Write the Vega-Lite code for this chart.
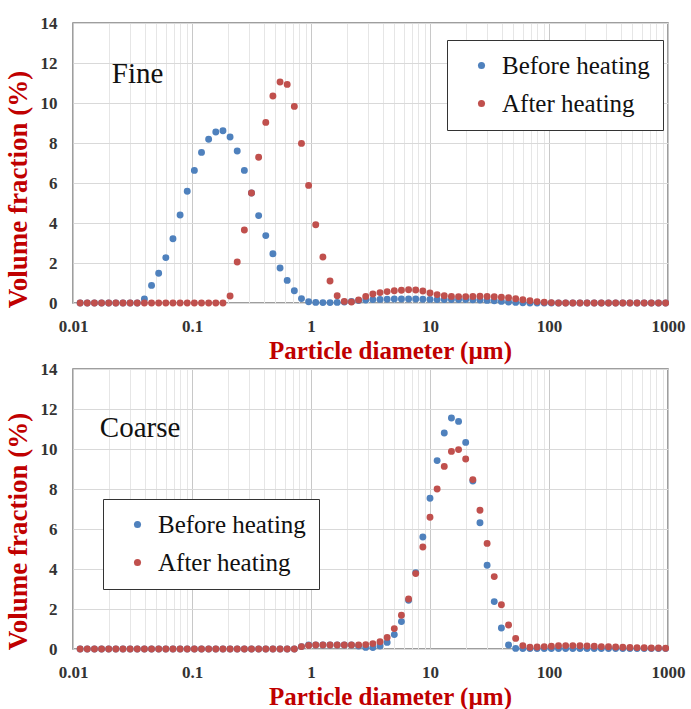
{
"$schema": "https://vega.github.io/schema/vega-lite/v6.json",
"background": "white",
"padding": {"left": 3, "top": 13, "right": 12, "bottom": 5},
"spacing": -5,
"config": {
  "view": {"stroke": "#7f7f7f", "strokeWidth": 1.5},
  "axis": {"labelFont": "Liberation Serif", "labelFontWeight": "bold", "labelFontSize": 17, "labelColor": "#333333", "titleFont": "Liberation Serif", "titleFontWeight": "bold", "titleFontSize": 25, "titleColor": "#C00000", "ticks": false, "domain": false, "gridColor": "#d9d9d9", "gridWidth": 1, "labelOverlap": false},
  "axisY": {"titleFontSize": 27},
  "legend": {"labelFont": "Liberation Serif", "labelFontSize": 25, "labelColor": "#111111", "strokeColor": "#333333", "fillColor": "white", "padding": 13, "symbolType": "circle", "symbolSize": 50, "symbolOffset": 9, "labelOffset": 8, "rowPadding": 12, "symbolStrokeWidth": 0}
},
"resolve": {"legend": {"color": "independent"}},
"datasets": {
"fine": [
{"d":0.01148,"s":"Before heating","v":0},{"d":0.01318,"s":"Before heating","v":0},{"d":0.01514,"s":"Before heating","v":0},{"d":0.01738,"s":"Before heating","v":0},{"d":0.01995,"s":"Before heating","v":0},{"d":0.02291,"s":"Before heating","v":0},{"d":0.0263,"s":"Before heating","v":0},{"d":0.0302,"s":"Before heating","v":0},{"d":0.03467,"s":"Before heating","v":0},{"d":0.03981,"s":"Before heating","v":0.2},
{"d":0.04571,"s":"Before heating","v":0.88},{"d":0.05248,"s":"Before heating","v":1.49},{"d":0.06026,"s":"Before heating","v":2.27},{"d":0.06918,"s":"Before heating","v":3.21},{"d":0.07943,"s":"Before heating","v":4.4},{"d":0.0912,"s":"Before heating","v":5.59},{"d":0.1047,"s":"Before heating","v":6.63},{"d":0.1202,"s":"Before heating","v":7.53},{"d":0.138,"s":"Before heating","v":8.19},{"d":0.1585,"s":"Before heating","v":8.55},
{"d":0.182,"s":"Before heating","v":8.61},{"d":0.2089,"s":"Before heating","v":8.3},{"d":0.2399,"s":"Before heating","v":7.6},{"d":0.2754,"s":"Before heating","v":6.63},{"d":0.3162,"s":"Before heating","v":5.5},{"d":0.3631,"s":"Before heating","v":4.37},{"d":0.4169,"s":"Before heating","v":3.37},{"d":0.4786,"s":"Before heating","v":2.46},{"d":0.5495,"s":"Before heating","v":1.75},{"d":0.631,"s":"Before heating","v":1.13},
{"d":0.7244,"s":"Before heating","v":0.61},{"d":0.8318,"s":"Before heating","v":0.22},{"d":0.955,"s":"Before heating","v":0.06},{"d":1.096,"s":"Before heating","v":0.03},{"d":1.259,"s":"Before heating","v":0.02},{"d":1.445,"s":"Before heating","v":0.02},{"d":1.66,"s":"Before heating","v":0.03},{"d":1.905,"s":"Before heating","v":0.05},{"d":2.188,"s":"Before heating","v":0.08},{"d":2.512,"s":"Before heating","v":0.12},
{"d":2.884,"s":"Before heating","v":0.15},{"d":3.311,"s":"Before heating","v":0.17},{"d":3.802,"s":"Before heating","v":0.18},{"d":4.365,"s":"Before heating","v":0.19},{"d":5.012,"s":"Before heating","v":0.2},{"d":5.754,"s":"Before heating","v":0.2},{"d":6.607,"s":"Before heating","v":0.2},{"d":7.586,"s":"Before heating","v":0.2},{"d":8.71,"s":"Before heating","v":0.19},{"d":10,"s":"Before heating","v":0.18},
{"d":11.48,"s":"Before heating","v":0.17},{"d":13.18,"s":"Before heating","v":0.17},{"d":15.14,"s":"Before heating","v":0.17},{"d":17.38,"s":"Before heating","v":0.17},{"d":19.95,"s":"Before heating","v":0.17},{"d":22.91,"s":"Before heating","v":0.16},{"d":26.3,"s":"Before heating","v":0.15},{"d":30.2,"s":"Before heating","v":0.13},{"d":34.67,"s":"Before heating","v":0.11},{"d":39.81,"s":"Before heating","v":0.08},
{"d":45.71,"s":"Before heating","v":0.05},{"d":52.48,"s":"Before heating","v":0.03},{"d":60.26,"s":"Before heating","v":0.01},{"d":69.18,"s":"Before heating","v":0},{"d":79.43,"s":"Before heating","v":0},{"d":91.2,"s":"Before heating","v":0},{"d":104.7,"s":"Before heating","v":0},{"d":120.2,"s":"Before heating","v":0},{"d":138,"s":"Before heating","v":0},{"d":158.5,"s":"Before heating","v":0},
{"d":182,"s":"Before heating","v":0},{"d":208.9,"s":"Before heating","v":0},{"d":239.9,"s":"Before heating","v":0},{"d":275.4,"s":"Before heating","v":0},{"d":316.2,"s":"Before heating","v":0},{"d":363.1,"s":"Before heating","v":0},{"d":416.9,"s":"Before heating","v":0},{"d":478.6,"s":"Before heating","v":0},{"d":549.5,"s":"Before heating","v":0},{"d":631,"s":"Before heating","v":0},
{"d":724.4,"s":"Before heating","v":0},{"d":831.8,"s":"Before heating","v":0},{"d":955,"s":"Before heating","v":0},
{"d":0.01148,"s":"After heating","v":0},{"d":0.01318,"s":"After heating","v":0},{"d":0.01514,"s":"After heating","v":0},{"d":0.01738,"s":"After heating","v":0},{"d":0.01995,"s":"After heating","v":0},{"d":0.02291,"s":"After heating","v":0},{"d":0.0263,"s":"After heating","v":0},{"d":0.0302,"s":"After heating","v":0},{"d":0.03467,"s":"After heating","v":0},{"d":0.03981,"s":"After heating","v":0},
{"d":0.04571,"s":"After heating","v":0},{"d":0.05248,"s":"After heating","v":0},{"d":0.06026,"s":"After heating","v":0},{"d":0.06918,"s":"After heating","v":0},{"d":0.07943,"s":"After heating","v":0},{"d":0.0912,"s":"After heating","v":0},{"d":0.1047,"s":"After heating","v":0},{"d":0.1202,"s":"After heating","v":0},{"d":0.138,"s":"After heating","v":0},{"d":0.1585,"s":"After heating","v":0},
{"d":0.182,"s":"After heating","v":0},{"d":0.2089,"s":"After heating","v":0.35},{"d":0.2399,"s":"After heating","v":2.05},{"d":0.2754,"s":"After heating","v":3.65},{"d":0.3162,"s":"After heating","v":5.5},{"d":0.3631,"s":"After heating","v":7.29},{"d":0.4169,"s":"After heating","v":9.03},{"d":0.4786,"s":"After heating","v":10.35},{"d":0.5495,"s":"After heating","v":11.05},{"d":0.631,"s":"After heating","v":10.93},
{"d":0.7244,"s":"After heating","v":9.83},{"d":0.8318,"s":"After heating","v":7.98},{"d":0.955,"s":"After heating","v":5.88},{"d":1.096,"s":"After heating","v":3.91},{"d":1.259,"s":"After heating","v":2.3},{"d":1.445,"s":"After heating","v":1.1},{"d":1.66,"s":"After heating","v":0.36},{"d":1.905,"s":"After heating","v":0.08},{"d":2.188,"s":"After heating","v":0.05},{"d":2.512,"s":"After heating","v":0.15},
{"d":2.884,"s":"After heating","v":0.33},{"d":3.311,"s":"After heating","v":0.45},{"d":3.802,"s":"After heating","v":0.52},{"d":4.365,"s":"After heating","v":0.57},{"d":5.012,"s":"After heating","v":0.61},{"d":5.754,"s":"After heating","v":0.64},{"d":6.607,"s":"After heating","v":0.66},{"d":7.586,"s":"After heating","v":0.65},{"d":8.71,"s":"After heating","v":0.6},{"d":10,"s":"After heating","v":0.5},
{"d":11.48,"s":"After heating","v":0.42},{"d":13.18,"s":"After heating","v":0.36},{"d":15.14,"s":"After heating","v":0.33},{"d":17.38,"s":"After heating","v":0.32},{"d":19.95,"s":"After heating","v":0.32},{"d":22.91,"s":"After heating","v":0.33},{"d":26.3,"s":"After heating","v":0.34},{"d":30.2,"s":"After heating","v":0.33},{"d":34.67,"s":"After heating","v":0.31},{"d":39.81,"s":"After heating","v":0.29},
{"d":45.71,"s":"After heating","v":0.26},{"d":52.48,"s":"After heating","v":0.21},{"d":60.26,"s":"After heating","v":0.16},{"d":69.18,"s":"After heating","v":0.11},{"d":79.43,"s":"After heating","v":0.07},{"d":91.2,"s":"After heating","v":0.04},{"d":104.7,"s":"After heating","v":0.02},{"d":120.2,"s":"After heating","v":0},{"d":138,"s":"After heating","v":0},{"d":158.5,"s":"After heating","v":0},
{"d":182,"s":"After heating","v":0},{"d":208.9,"s":"After heating","v":0},{"d":239.9,"s":"After heating","v":0},{"d":275.4,"s":"After heating","v":0},{"d":316.2,"s":"After heating","v":0},{"d":363.1,"s":"After heating","v":0},{"d":416.9,"s":"After heating","v":0},{"d":478.6,"s":"After heating","v":0},{"d":549.5,"s":"After heating","v":0},{"d":631,"s":"After heating","v":0},
{"d":724.4,"s":"After heating","v":0},{"d":831.8,"s":"After heating","v":0},{"d":955,"s":"After heating","v":0}
],
"coarse": [
{"d":0.01148,"s":"Before heating","v":0},{"d":0.01318,"s":"Before heating","v":0},{"d":0.01514,"s":"Before heating","v":0},{"d":0.01738,"s":"Before heating","v":0},{"d":0.01995,"s":"Before heating","v":0},{"d":0.02291,"s":"Before heating","v":0},{"d":0.0263,"s":"Before heating","v":0},{"d":0.0302,"s":"Before heating","v":0},{"d":0.03467,"s":"Before heating","v":0},{"d":0.03981,"s":"Before heating","v":0},
{"d":0.04571,"s":"Before heating","v":0},{"d":0.05248,"s":"Before heating","v":0},{"d":0.06026,"s":"Before heating","v":0},{"d":0.06918,"s":"Before heating","v":0},{"d":0.07943,"s":"Before heating","v":0},{"d":0.0912,"s":"Before heating","v":0},{"d":0.1047,"s":"Before heating","v":0},{"d":0.1202,"s":"Before heating","v":0},{"d":0.138,"s":"Before heating","v":0},{"d":0.1585,"s":"Before heating","v":0},
{"d":0.182,"s":"Before heating","v":0},{"d":0.2089,"s":"Before heating","v":0},{"d":0.2399,"s":"Before heating","v":0},{"d":0.2754,"s":"Before heating","v":0},{"d":0.3162,"s":"Before heating","v":0},{"d":0.3631,"s":"Before heating","v":0},{"d":0.4169,"s":"Before heating","v":0},{"d":0.4786,"s":"Before heating","v":0},{"d":0.5495,"s":"Before heating","v":0},{"d":0.631,"s":"Before heating","v":0},
{"d":0.7244,"s":"Before heating","v":0},{"d":0.8318,"s":"Before heating","v":0.12},{"d":0.955,"s":"Before heating","v":0.2},{"d":1.096,"s":"Before heating","v":0.2},{"d":1.259,"s":"Before heating","v":0.2},{"d":1.445,"s":"Before heating","v":0.2},{"d":1.66,"s":"Before heating","v":0.2},{"d":1.905,"s":"Before heating","v":0.2},{"d":2.188,"s":"Before heating","v":0.2},{"d":2.512,"s":"Before heating","v":0.15},
{"d":2.884,"s":"Before heating","v":0.08},{"d":3.311,"s":"Before heating","v":0.07},{"d":3.802,"s":"Before heating","v":0.15},{"d":4.365,"s":"Before heating","v":0.33},{"d":5.012,"s":"Before heating","v":0.72},{"d":5.754,"s":"Before heating","v":1.37},{"d":6.607,"s":"Before heating","v":2.44},{"d":7.586,"s":"Before heating","v":3.82},{"d":8.71,"s":"Before heating","v":5.6},{"d":10,"s":"Before heating","v":7.54},
{"d":11.48,"s":"Before heating","v":9.42},{"d":13.18,"s":"Before heating","v":10.8},{"d":15.14,"s":"Before heating","v":11.55},{"d":17.38,"s":"Before heating","v":11.38},{"d":19.95,"s":"Before heating","v":10.33},{"d":22.91,"s":"Before heating","v":8.4},{"d":26.3,"s":"Before heating","v":6.31},{"d":30.2,"s":"Before heating","v":4.19},{"d":34.67,"s":"Before heating","v":2.37},{"d":39.81,"s":"Before heating","v":1.05},
{"d":45.71,"s":"Before heating","v":0.2},{"d":52.48,"s":"Before heating","v":0.03},{"d":60.26,"s":"Before heating","v":0.02},{"d":69.18,"s":"Before heating","v":0.02},{"d":79.43,"s":"Before heating","v":0.02},{"d":91.2,"s":"Before heating","v":0.02},{"d":104.7,"s":"Before heating","v":0.02},{"d":120.2,"s":"Before heating","v":0.02},{"d":138,"s":"Before heating","v":0.02},{"d":158.5,"s":"Before heating","v":0.02},
{"d":182,"s":"Before heating","v":0.02},{"d":208.9,"s":"Before heating","v":0.02},{"d":239.9,"s":"Before heating","v":0.02},{"d":275.4,"s":"Before heating","v":0.02},{"d":316.2,"s":"Before heating","v":0.02},{"d":363.1,"s":"Before heating","v":0.02},{"d":416.9,"s":"Before heating","v":0.02},{"d":478.6,"s":"Before heating","v":0.02},{"d":549.5,"s":"Before heating","v":0.02},{"d":631,"s":"Before heating","v":0.02},
{"d":724.4,"s":"Before heating","v":0.02},{"d":831.8,"s":"Before heating","v":0.02},{"d":955,"s":"Before heating","v":0.02},
{"d":0.01148,"s":"After heating","v":0},{"d":0.01318,"s":"After heating","v":0},{"d":0.01514,"s":"After heating","v":0},{"d":0.01738,"s":"After heating","v":0},{"d":0.01995,"s":"After heating","v":0},{"d":0.02291,"s":"After heating","v":0},{"d":0.0263,"s":"After heating","v":0},{"d":0.0302,"s":"After heating","v":0},{"d":0.03467,"s":"After heating","v":0},{"d":0.03981,"s":"After heating","v":0},
{"d":0.04571,"s":"After heating","v":0},{"d":0.05248,"s":"After heating","v":0},{"d":0.06026,"s":"After heating","v":0},{"d":0.06918,"s":"After heating","v":0},{"d":0.07943,"s":"After heating","v":0},{"d":0.0912,"s":"After heating","v":0},{"d":0.1047,"s":"After heating","v":0},{"d":0.1202,"s":"After heating","v":0},{"d":0.138,"s":"After heating","v":0},{"d":0.1585,"s":"After heating","v":0},
{"d":0.182,"s":"After heating","v":0},{"d":0.2089,"s":"After heating","v":0},{"d":0.2399,"s":"After heating","v":0},{"d":0.2754,"s":"After heating","v":0},{"d":0.3162,"s":"After heating","v":0},{"d":0.3631,"s":"After heating","v":0},{"d":0.4169,"s":"After heating","v":0},{"d":0.4786,"s":"After heating","v":0},{"d":0.5495,"s":"After heating","v":0},{"d":0.631,"s":"After heating","v":0},
{"d":0.7244,"s":"After heating","v":0},{"d":0.8318,"s":"After heating","v":0.12},{"d":0.955,"s":"After heating","v":0.18},{"d":1.096,"s":"After heating","v":0.2},{"d":1.259,"s":"After heating","v":0.2},{"d":1.445,"s":"After heating","v":0.2},{"d":1.66,"s":"After heating","v":0.2},{"d":1.905,"s":"After heating","v":0.2},{"d":2.188,"s":"After heating","v":0.2},{"d":2.512,"s":"After heating","v":0.2},
{"d":2.884,"s":"After heating","v":0.22},{"d":3.311,"s":"After heating","v":0.27},{"d":3.802,"s":"After heating","v":0.36},{"d":4.365,"s":"After heating","v":0.58},{"d":5.012,"s":"After heating","v":1.02},{"d":5.754,"s":"After heating","v":1.69},{"d":6.607,"s":"After heating","v":2.5},{"d":7.586,"s":"After heating","v":3.77},{"d":8.71,"s":"After heating","v":5.1},{"d":10,"s":"After heating","v":6.59},
{"d":11.48,"s":"After heating","v":8.0},{"d":13.18,"s":"After heating","v":9.13},{"d":15.14,"s":"After heating","v":9.88},{"d":17.38,"s":"After heating","v":9.97},{"d":19.95,"s":"After heating","v":9.5},{"d":22.91,"s":"After heating","v":8.47},{"d":26.3,"s":"After heating","v":6.94},{"d":30.2,"s":"After heating","v":5.28},{"d":34.67,"s":"After heating","v":3.62},{"d":39.81,"s":"After heating","v":2.21},
{"d":45.71,"s":"After heating","v":1.2},{"d":52.48,"s":"After heating","v":0.53},{"d":60.26,"s":"After heating","v":0.17},{"d":69.18,"s":"After heating","v":0.09},{"d":79.43,"s":"After heating","v":0.1},{"d":91.2,"s":"After heating","v":0.12},{"d":104.7,"s":"After heating","v":0.14},{"d":120.2,"s":"After heating","v":0.16},{"d":138,"s":"After heating","v":0.17},{"d":158.5,"s":"After heating","v":0.17},
{"d":182,"s":"After heating","v":0.16},{"d":208.9,"s":"After heating","v":0.15},{"d":239.9,"s":"After heating","v":0.14},{"d":275.4,"s":"After heating","v":0.12},{"d":316.2,"s":"After heating","v":0.11},{"d":363.1,"s":"After heating","v":0.1},{"d":416.9,"s":"After heating","v":0.09},{"d":478.6,"s":"After heating","v":0.08},{"d":549.5,"s":"After heating","v":0.07},{"d":631,"s":"After heating","v":0.06},
{"d":724.4,"s":"After heating","v":0.05},{"d":831.8,"s":"After heating","v":0.05},{"d":955,"s":"After heating","v":0.04}
]
},
"vconcat": [
{
  "width": 595, "height": 280,
  "layer": [
    {"data": {"name": "fine"},
     "mark": {"type": "circle", "size": 48, "opacity": 1},
     "encoding": {
       "x": {"field": "d", "type": "quantitative", "title": "Particle diameter (µm)",
             "scale": {"type": "log", "domain": [0.01, 1000]},
             "axis": {"values": [0.01,0.02,0.03,0.04,0.05,0.06,0.07,0.08,0.09,0.1,0.2,0.3,0.4,0.5,0.6,0.7,0.8,0.9,1,2,3,4,5,6,7,8,9,10,20,30,40,50,60,70,80,90,100,200,300,400,500,600,700,800,900,1000],
                      "format": "~g", "labelFlush": false, "labelOverlap": false, "labelPadding": 15, "titlePadding": 4, "titleX": 317,
                      "labelExpr": "abs(log(datum.value)/LN10 - round(log(datum.value)/LN10)) < 0.001 ? datum.label : ''",
                      "gridColor": {"condition": {"test": "abs(log(datum.value)/LN10 - round(log(datum.value)/LN10)) < 0.001", "value": "#c8c8c8"}, "value": "#e6e6e6"}}},
       "y": {"field": "v", "type": "quantitative", "title": "Volume fraction (%)",
             "scale": {"domain": [0, 14]},
             "axis": {"values": [0,2,4,6,8,10,12,14], "labelOverlap": false, "labelPadding": 16, "titlePadding": 8, "titleY": 166}},
       "color": {"field": "s", "type": "nominal",
                 "scale": {"domain": ["Before heating", "After heating"], "range": ["#4F81BD", "#C0504D"]},
                 "legend": {"title": null, "orient": "none", "legendX": 374, "legendY": 17}}
     }},
    {"data": {"values": [{"d": 0.0212, "v": 11.0, "t": "Fine"}]},
     "mark": {"type": "text", "align": "left", "baseline": "alphabetic", "font": "Liberation Serif", "fontSize": 29, "color": "#111111"},
     "encoding": {
       "x": {"field": "d", "type": "quantitative", "title": "Particle diameter (µm)",
             "axis": {"values": [0.01,0.02,0.03,0.04,0.05,0.06,0.07,0.08,0.09,0.1,0.2,0.3,0.4,0.5,0.6,0.7,0.8,0.9,1,2,3,4,5,6,7,8,9,10,20,30,40,50,60,70,80,90,100,200,300,400,500,600,700,800,900,1000],
                      "format": "~g", "labelFlush": false, "labelOverlap": false, "labelPadding": 15, "titlePadding": 4, "titleX": 317,
                      "labelExpr": "abs(log(datum.value)/LN10 - round(log(datum.value)/LN10)) < 0.001 ? datum.label : ''",
                      "gridColor": {"condition": {"test": "abs(log(datum.value)/LN10 - round(log(datum.value)/LN10)) < 0.001", "value": "#c8c8c8"}, "value": "#e6e6e6"}}},
       "y": {"field": "v", "type": "quantitative", "title": "Volume fraction (%)",
             "axis": {"values": [0,2,4,6,8,10,12,14], "labelOverlap": false, "labelPadding": 16, "titlePadding": 8, "titleY": 166}},
       "text": {"field": "t"}}}
  ]
},
{
  "width": 595, "height": 280,
  "layer": [
    {"data": {"name": "coarse"},
     "mark": {"type": "circle", "size": 48, "opacity": 1},
     "encoding": {
       "x": {"field": "d", "type": "quantitative", "title": "Particle diameter (µm)",
             "scale": {"type": "log", "domain": [0.01, 1000]},
             "axis": {"values": [0.01,0.02,0.03,0.04,0.05,0.06,0.07,0.08,0.09,0.1,0.2,0.3,0.4,0.5,0.6,0.7,0.8,0.9,1,2,3,4,5,6,7,8,9,10,20,30,40,50,60,70,80,90,100,200,300,400,500,600,700,800,900,1000],
                      "format": "~g", "labelFlush": false, "labelOverlap": false, "labelPadding": 15, "titlePadding": 4, "titleX": 317,
                      "labelExpr": "abs(log(datum.value)/LN10 - round(log(datum.value)/LN10)) < 0.001 ? datum.label : ''",
                      "gridColor": {"condition": {"test": "abs(log(datum.value)/LN10 - round(log(datum.value)/LN10)) < 0.001", "value": "#c8c8c8"}, "value": "#e6e6e6"}}},
       "y": {"field": "v", "type": "quantitative", "title": "Volume fraction (%)",
             "scale": {"domain": [0, 14]},
             "axis": {"values": [0,2,4,6,8,10,12,14], "labelOverlap": false, "labelPadding": 16, "titlePadding": 8, "titleY": 162}},
       "color": {"field": "s", "type": "nominal",
                 "scale": {"domain": ["Before heating", "After heating"], "range": ["#4F81BD", "#C0504D"]},
                 "legend": {"title": null, "orient": "none", "legendX": 30, "legendY": 130}}
     }},
    {"data": {"values": [{"d": 0.0168, "v": 10.6, "t": "Coarse"}]},
     "mark": {"type": "text", "align": "left", "baseline": "alphabetic", "font": "Liberation Serif", "fontSize": 29, "color": "#111111"},
     "encoding": {
       "x": {"field": "d", "type": "quantitative", "title": "Particle diameter (µm)",
             "axis": {"values": [0.01,0.02,0.03,0.04,0.05,0.06,0.07,0.08,0.09,0.1,0.2,0.3,0.4,0.5,0.6,0.7,0.8,0.9,1,2,3,4,5,6,7,8,9,10,20,30,40,50,60,70,80,90,100,200,300,400,500,600,700,800,900,1000],
                      "format": "~g", "labelFlush": false, "labelOverlap": false, "labelPadding": 15, "titlePadding": 4, "titleX": 317,
                      "labelExpr": "abs(log(datum.value)/LN10 - round(log(datum.value)/LN10)) < 0.001 ? datum.label : ''",
                      "gridColor": {"condition": {"test": "abs(log(datum.value)/LN10 - round(log(datum.value)/LN10)) < 0.001", "value": "#c8c8c8"}, "value": "#e6e6e6"}}},
       "y": {"field": "v", "type": "quantitative", "title": "Volume fraction (%)",
             "axis": {"values": [0,2,4,6,8,10,12,14], "labelOverlap": false, "labelPadding": 16, "titlePadding": 8, "titleY": 162}},
       "text": {"field": "t"}}}
  ]
}
]
}
